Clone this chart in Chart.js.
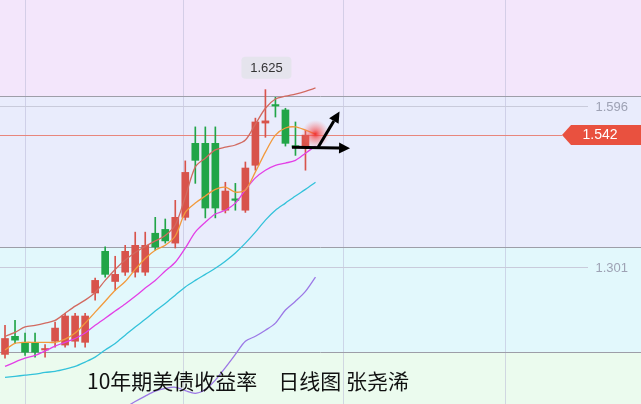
<!DOCTYPE html>
<html><head><meta charset="utf-8">
<script src="https://cdn.jsdelivr.net/npm/chart.js@4"></script>
<style>html,body{margin:0;padding:0;background:#fff;overflow:hidden}#wrap{width:641px;height:404px;position:relative}</style>
</head><body><div id="wrap"><canvas id="c" width="641" height="404"></canvas></div>
<script>
// ---- data (price units) ----
const opens  = [1.142,1.175,1.164,1.164,1.150,1.166,1.159,1.166,1.164,1.254,1.330,1.275,1.292,1.292,1.292,1.363,1.370,1.345,1.392,1.527,1.527,1.527,1.405,1.425,1.405,1.487,1.564,1.597,1.588,1.522,1.520];
const closes = [1.171,1.168,1.146,1.146,1.151,1.190,1.212,1.212,1.212,1.277,1.288,1.288,1.330,1.341,1.341,1.338,1.349,1.392,1.474,1.496,1.409,1.409,1.440,1.423,1.482,1.566,1.568,1.595,1.527,1.520,1.542];
const highs  = [1.195,1.204,1.181,1.181,1.160,1.201,1.217,1.217,1.217,1.281,1.338,1.321,1.341,1.365,1.365,1.392,1.389,1.423,1.495,1.557,1.557,1.557,1.456,1.454,1.493,1.573,1.625,1.611,1.591,1.566,1.551];
const lows   = [1.135,1.162,1.140,1.137,1.137,1.155,1.155,1.155,1.155,1.241,1.283,1.259,1.286,1.283,1.286,1.332,1.345,1.336,1.387,1.454,1.391,1.391,1.400,1.405,1.401,1.478,1.538,1.575,1.522,1.505,1.478];
const maBrown  = [1.175,1.182,1.192,1.195,1.199,1.204,1.217,1.230,1.241,1.255,1.277,1.297,1.314,1.328,1.339,1.349,1.359,1.378,1.429,1.484,1.500,1.515,1.520,1.524,1.533,1.562,1.591,1.608,1.613,1.617,1.622,1.628];
const maOrange = [1.150,1.162,1.164,1.164,1.164,1.164,1.170,1.181,1.199,1.219,1.239,1.259,1.275,1.297,1.317,1.332,1.341,1.358,1.401,1.418,1.431,1.443,1.447,1.438,1.442,1.475,1.511,1.542,1.555,1.557,1.551,1.544];
const maMagenta= [1.120,1.128,1.135,1.140,1.148,1.157,1.164,1.171,1.181,1.195,1.208,1.221,1.234,1.248,1.263,1.277,1.294,1.310,1.336,1.365,1.383,1.398,1.405,1.418,1.442,1.464,1.478,1.487,1.491,1.496,1.509,1.522];
const maCyan   = [1.100,1.102,1.104,1.106,1.109,1.111,1.115,1.120,1.128,1.137,1.150,1.162,1.177,1.192,1.206,1.221,1.235,1.250,1.265,1.277,1.288,1.299,1.312,1.327,1.345,1.365,1.387,1.405,1.418,1.431,1.443,1.456];
const maPurple = [null,null,null,null,null,null,null,null,null,null,null,1.034,1.045,1.056,1.066,1.075,1.080,1.082,1.076,1.071,1.078,1.095,1.118,1.142,1.166,1.175,1.186,1.199,1.223,1.239,1.257,1.283];
const refLevels = [1.596, 1.301];      // grey price labels on the right
const lastPrice = 1.542;               // red tag
const highLabel = {index: 26, value: 1.625};
const bandEdges = [1.6132, 1.3375, 1.1458];
const gridX = [2, 17.8, 33.75, 49.9];
const titleText = '10年期美债收益率　日线图 张尧浠';
const arrows = [
  {from:[28.65,1.520], to:[34.45,1.518]},
  {from:[31.2,1.518],  to:[33.4,1.585]}
];

const RED = '#d8534b', GREEN = '#21a548';
const idx = opens.map((_, i) => i);
const candleColors = idx.map(i => closes[i] >= opens[i] ? RED : GREEN);
const lineData = arr => arr.map((v, i) => ({x: i, y: v}));

const decor = {
  id: 'decor',
  beforeDraw(chart) {
    const {ctx, chartArea: a, scales: {x, y}} = chart;
    const cols = ['#f3e6fb', '#e9ecfc', '#e2f8fc', '#ebfbee'];
    let prev = a.top;
    [...bandEdges.map(v => y.getPixelForValue(v)), a.bottom].forEach((py, i) => {
      ctx.fillStyle = cols[i];
      ctx.fillRect(a.left, prev, a.width, py - prev);
      prev = py;
    });
    ctx.save();
    ctx.lineWidth = 1;
    ctx.strokeStyle = 'rgba(185,185,215,0.55)';
    gridX.forEach(v => {
      const px = Math.round(x.getPixelForValue(v)) + 0.5;
      ctx.beginPath(); ctx.moveTo(px, a.top); ctx.lineTo(px, a.bottom); ctx.stroke();
    });
    const hline = (v, color, x1) => {
      const py = Math.round(y.getPixelForValue(v)) + 0.5;
      ctx.strokeStyle = color;
      ctx.beginPath(); ctx.moveTo(a.left, py); ctx.lineTo(x1, py); ctx.stroke();
    };
    bandEdges.forEach(v => hline(v, '#9d9ea8', a.right));
    refLevels.forEach(v => hline(v, '#c9cbdb', 588));
    hline(lastPrice, '#e8867c', 562);
    ctx.restore();
  },
  afterDatasetsDraw(chart) {
    const {ctx, scales: {x, y}} = chart;
    ctx.save();
    const gi = maOrange.length - 1;
    const gx = x.getPixelForValue(gi), gy = y.getPixelForValue(maOrange[gi]);
    const g = ctx.createRadialGradient(gx, gy, 0, gx, gy, 14);
    g.addColorStop(0, 'rgba(240,40,40,0.95)');
    g.addColorStop(0.3, 'rgba(245,70,70,0.6)');
    g.addColorStop(1, 'rgba(250,120,120,0)');
    ctx.fillStyle = g;
    ctx.beginPath(); ctx.arc(gx, gy, 14, 0, Math.PI * 2); ctx.fill();
    ctx.strokeStyle = '#000'; ctx.fillStyle = '#000'; ctx.lineWidth = 3;
    arrows.forEach(ar => {
      const x0 = x.getPixelForValue(ar.from[0]), y0 = y.getPixelForValue(ar.from[1]);
      const x1 = x.getPixelForValue(ar.to[0]), y1 = y.getPixelForValue(ar.to[1]);
      const ang = Math.atan2(y1 - y0, x1 - x0);
      const hl = 11, hw = 5.5;
      const bx = x1 - hl * Math.cos(ang), by = y1 - hl * Math.sin(ang);
      ctx.beginPath(); ctx.moveTo(x0, y0); ctx.lineTo(bx, by); ctx.stroke();
      ctx.beginPath();
      ctx.moveTo(x1, y1);
      ctx.lineTo(bx + hw * Math.sin(ang), by - hw * Math.cos(ang));
      ctx.lineTo(bx - hw * Math.sin(ang), by + hw * Math.cos(ang));
      ctx.closePath(); ctx.fill();
    });
    ctx.restore();
  },
  afterDraw(chart) {
    const {ctx, chartArea: a, scales: {x, y}} = chart;
    ctx.save();
    ctx.font = '13px "Liberation Sans", Arial, sans-serif';
    ctx.textBaseline = 'middle';
    ctx.textAlign = 'right';
    ctx.fillStyle = '#9ea2b4';
    refLevels.forEach(v => ctx.fillText(v.toFixed(3), 628, y.getPixelForValue(v) + 1.5));
    const py = y.getPixelForValue(lastPrice);
    ctx.fillStyle = '#e9513f';
    ctx.beginPath();
    ctx.moveTo(562, py); ctx.lineTo(571, py - 10); ctx.lineTo(a.right, py - 10);
    ctx.lineTo(a.right, py + 10); ctx.lineTo(571, py + 10); ctx.closePath(); ctx.fill();
    ctx.fillStyle = '#fff'; ctx.textAlign = 'center';
    ctx.font = '14px "Liberation Sans", Arial, sans-serif';
    ctx.fillText(lastPrice.toFixed(3), 600, py + 0.5);
    const hx = x.getPixelForValue(highLabel.index) + 1, hy = y.getPixelForValue(highLabel.value) - 22;
    ctx.fillStyle = 'rgba(228,228,236,0.95)';
    ctx.beginPath(); ctx.roundRect(hx - 25, hy - 11, 50, 22, 4); ctx.fill();
    ctx.fillStyle = '#333';
    ctx.font = '13px "Liberation Sans", Arial, sans-serif';
    ctx.fillText(highLabel.value.toFixed(3), hx, hy + 0.5);
    ctx.textAlign = 'left';
    ctx.fillStyle = '#111';
    ctx.font = '21px "Noto Sans CJK SC", sans-serif';
    ctx.fillText(titleText, 87, 381);
    ctx.restore();
  }
};

const lineDs = (data, color) => ({
  type: 'line', data: lineData(data), borderColor: color, borderWidth: 1.3,
  pointRadius: 0, tension: 0.3, order: 0, spanGaps: false
});

new Chart(document.getElementById('c'), {
  data: {
    datasets: [
      lineDs(maBrown, '#d26a60'),
      lineDs(maOrange, '#f29a3c'),
      lineDs(maMagenta, '#e33fe6'),
      lineDs(maCyan, '#33c2da'),
      lineDs(maPurple, '#9c78e6'),
      { type: 'bar', data: idx.map(i => ({x: i, y: [opens[i], closes[i]]})),
        backgroundColor: candleColors, barThickness: 7, minBarLength: 1.5, grouped: false, order: 1, borderWidth: 0 },
      { type: 'bar', data: idx.map(i => ({x: i, y: [lows[i], highs[i]]})),
        backgroundColor: candleColors, barThickness: 1, grouped: false, order: 2, borderWidth: 0 }
    ]
  },
  options: {
    responsive: false, animation: false, devicePixelRatio: 1,
    layout: { padding: 0 },
    plugins: { legend: { display: false }, tooltip: { enabled: false } },
    scales: {
      x: { type: 'linear', min: -0.5, max: 63.5, offset: false, display: false },
      y: { type: 'linear', min: 1.0515, max: 1.7885, display: false }
    }
  },
  plugins: [decor]
});
</script>
</body></html>
